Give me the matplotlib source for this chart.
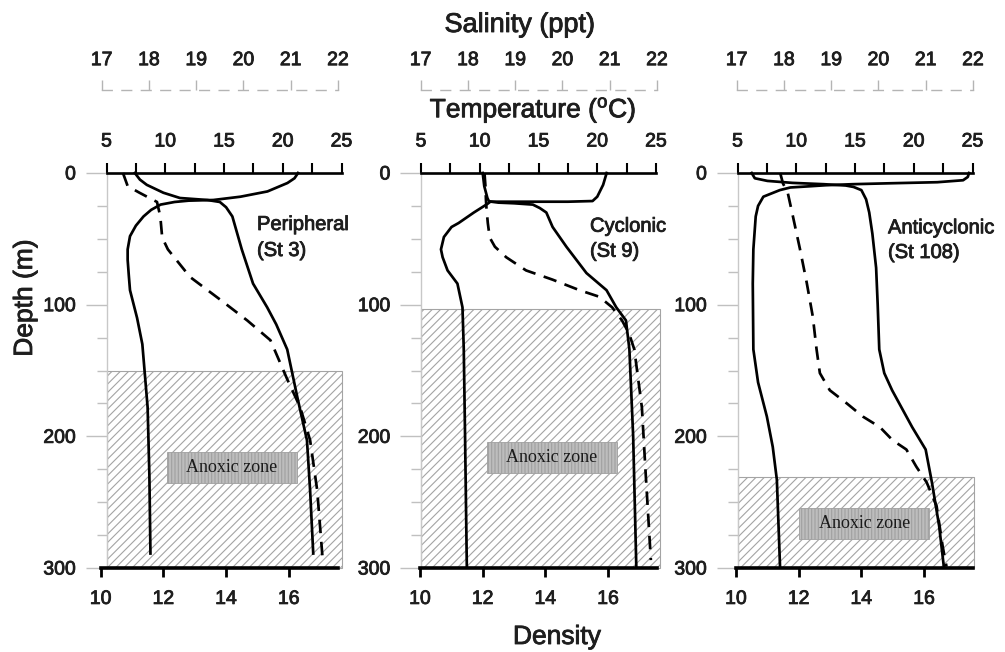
import matplotlib
matplotlib.use("Agg")
import matplotlib.pyplot as plt
import matplotlib.patheffects as pe
from matplotlib.patches import Rectangle
from matplotlib.ticker import MultipleLocator, FixedLocator

plt.rcParams['font.family'] = ['Liberation Sans', 'DejaVu Sans']
plt.rcParams['mathtext.fontset'] = 'custom'
plt.rcParams['mathtext.rm'] = 'Liberation Sans'
plt.rcParams['mathtext.it'] = 'Liberation Sans'
plt.rcParams['hatch.linewidth'] = 0.8

# ---------------- data ----------------
station_names = ["Peripheral\n(St 3)", "Cyclonic\n(St 9)", "Anticyclonic\n(St 108)"]
anoxic_top = [150, 103, 231]   # depth (m) of anoxic zone top

# Peripheral (St 3)
p1_temp_depth = [0, 4, 7.6, 14, 18, 20.5, 21, 22, 24, 28, 33, 40, 48, 58, 66, 78, 89, 110, 130, 178, 230, 289]
p1_temp = [21.3, 21.0, 20.4, 18.7, 16.4, 14.1, 12.0, 10.8, 9.6, 8.8, 8.15, 7.5, 7.0, 6.8, 6.8, 6.9, 7.0, 7.6, 8.05, 8.5, 8.65, 8.74]
p1_dens_depth = [0, 5, 9, 15, 19, 20.5, 22, 26, 33, 58, 84, 102, 115, 134, 170, 203, 241, 289]
p1_dens = [11.09, 11.25, 11.47, 12.0, 12.53, 13.4, 13.8, 14.0, 14.2, 14.5, 14.86, 15.31, 15.6, 15.95, 16.27, 16.58, 16.68, 16.78]
p1_sal_depth = [0, 10, 15, 22, 33, 49, 58, 79, 96, 112, 127, 157, 178, 203, 241, 291]
p1_sal = [17.45, 17.55, 17.8, 18.17, 18.24, 18.28, 18.4, 18.87, 19.5, 20.08, 20.57, 20.93, 21.2, 21.41, 21.56, 21.67]

# Cyclonic (St 9)
p2_temp_depth = [0, 9, 18, 21.3, 21.8, 21.8, 23.5, 30, 38, 41, 48.6, 58, 64, 74, 84, 102, 134, 200, 299]
p2_temp = [20.8, 20.5, 20.0, 19.6, 17.5, 10.9, 10.65, 9.5, 8.2, 7.6, 6.95, 6.7, 6.84, 7.26, 8.1, 8.53, 8.64, 8.75, 8.9]
p2_dens_depth = [0, 10, 19, 21.5, 22.5, 23, 24, 26.6, 30, 41, 56, 76, 89, 102, 112, 134, 200, 299]
p2_dens = [12.0, 12.05, 12.15, 12.2, 12.5, 13.0, 13.6, 13.82, 14.03, 14.23, 14.67, 15.31, 15.95, 16.26, 16.57, 16.68, 16.8, 16.9]
p2_sal_depth = [0, 10, 20, 26, 38, 49, 56, 64, 74, 81, 89, 94, 102, 112, 122, 134, 178, 228, 294]
p2_sal = [18.35, 18.37, 18.38, 18.39, 18.42, 18.46, 18.57, 18.81, 19.23, 19.79, 20.36, 20.78, 21.05, 21.26, 21.41, 21.52, 21.68, 21.76, 21.87]

# Anticyclonic (St 108)
p3_temp_depth = [0, 3, 5.5, 7, 7.8, 8.5, 9.3, 10, 11, 13, 18, 25, 33, 58, 84, 134, 159, 185, 208, 233, 299]
p3_temp = [24.7, 24.6, 24.2, 22.0, 18.0, 14.8, 12.5, 11.3, 9.5, 8.6, 7.2, 6.75, 6.55, 6.35, 6.3, 6.35, 6.75, 7.5, 8.0, 8.35, 8.62]
p3_dens_depth = [0, 4, 6, 7.5, 8.5, 9.5, 10.6, 13, 20, 30, 46, 72, 100, 134, 152, 165, 193, 210, 235, 268, 299]
p3_dens = [10.5, 10.6, 11.0, 11.8, 12.8, 13.5, 13.75, 14.0, 14.15, 14.25, 14.35, 14.47, 14.52, 14.57, 14.73, 14.98, 15.62, 16.05, 16.25, 16.48, 16.63]
p3_sal_depth = [0, 8, 15, 33, 58, 83, 109, 134, 152, 165, 175, 185, 193, 203, 210, 223, 235, 253, 284, 299]
p3_sal = [17.92, 17.98, 18.08, 18.19, 18.34, 18.48, 18.61, 18.69, 18.76, 18.97, 19.33, 19.67, 20.03, 20.3, 20.59, 20.8, 21.02, 21.23, 21.36, 21.44]

temps = [(p1_temp, p1_temp_depth), (p2_temp, p2_temp_depth), (p3_temp, p3_temp_depth)]
dens = [(p1_dens, p1_dens_depth), (p2_dens, p2_dens_depth), (p3_dens, p3_dens_depth)]
sals = [(p1_sal, p1_sal_depth), (p2_sal, p2_sal_depth), (p3_sal, p3_sal_depth)]

temp_ticks = [5, 10, 15, 20, 25]
dens_ticks = [10, 12, 14, 16]
sal_ticks = [17, 18, 19, 20, 21, 22]
depth_ticks = [0, 100, 200, 300]

# ---------------- layout (pixels) ----------------
W, H = 1005, 652
fig = plt.figure(figsize=(W / 100, H / 100), dpi=100)

Y_TOP, Y_BOT = 173, 568
T_X = [106.5, 421, 737.5]; T_W = 235
D_X = [100.7, 420, 736]; D_W = 237.3
S_X = [101.7, 420.7, 736.7]; S_W = 236.3
SAL_AXIS_Y = 90
HATCH_RIGHT = [1.0, 1.017, 1.006]
label_box_center = [(15.68, 224), (16.15, 216), (15.8, 266.5)]
station_xy = [(257, 230, 256), (590, 231.7, 256.7), (888, 233.3, 258)]

TXT = '#1e1e1e'
bold_fx = [pe.withStroke(linewidth=0.6, foreground=TXT)]

def rect(x0, w):
    return [x0 / W, 1 - Y_BOT / H, w / W, (Y_BOT - Y_TOP) / H]

def thicken(ax):
    for lab in ax.get_xticklabels() + ax.get_yticklabels():
        lab.set_path_effects(bold_fx)

LW = 1.95
dash = (0, (5, 3.2))

for i in range(3):
    # temperature / depth axes
    ax_t = fig.add_axes(rect(T_X[i], T_W))
    ax_t.set_xlim(5, 25)
    ax_t.set_ylim(300, 0)
    ax_t.patch.set_alpha(0)
    for s in ['right', 'bottom']:
        ax_t.spines[s].set_visible(False)
    ax_t.spines['top'].set_linewidth(1.9)
    ax_t.spines['left'].set_color('#c8c8c8')
    ax_t.spines['left'].set_linewidth(1.0)
    ax_t.xaxis.tick_top()
    ax_t.xaxis.set_major_locator(FixedLocator(temp_ticks))
    ax_t.xaxis.set_minor_locator(MultipleLocator(2.5))
    ax_t.tick_params(axis='x', which='both', direction='out', length=7.2, width=1.5,
                     labelsize=14, pad=9, colors='black', labelcolor=TXT)
    ax_t.yaxis.set_major_locator(FixedLocator(depth_ticks))
    ax_t.yaxis.set_minor_locator(MultipleLocator(25))
    ax_t.tick_params(axis='y', which='major', length=15, width=1, color='#c0c0c0',
                     labelsize=14, pad=7, labelcolor=TXT)
    ax_t.tick_params(axis='y', which='minor', length=7.5, width=1, color='#c0c0c0')
    thicken(ax_t)

    # anoxic zone hatching
    hr = Rectangle((0, anoxic_top[i]), HATCH_RIGHT[i], 300 - anoxic_top[i],
                   transform=ax_t.get_yaxis_transform(), facecolor='white',
                   edgecolor='#a4a4a4', hatch='////', linewidth=0.8, zorder=1,
                   clip_on=False)
    ax_t.add_patch(hr)
    cx, cy = label_box_center[i]
    bw, bh = 11.06, 23.5
    lb = Rectangle((cx - bw / 2, cy - bh / 2), bw, bh, facecolor='#bdbdbd',
                   edgecolor='#a0a0a0', hatch='|||||', linewidth=0.6, zorder=3)
    ax_t.add_patch(lb)
    ax_t.text(cx, cy, 'Anoxic zone', ha='center', va='center', fontsize=13,
              family=['Liberation Serif', 'DejaVu Serif'], color='#1a1a1a', zorder=4)

    ax_t.plot(temps[i][0], temps[i][1], color='black', lw=LW, zorder=5,
              solid_joinstyle='round', clip_on=False)

    # salinity axes
    ax_s = fig.add_axes(rect(S_X[i], S_W))
    ax_s.set_xlim(17, 22)
    ax_s.set_ylim(300, 0)
    ax_s.patch.set_alpha(0)
    for s in ['right', 'bottom', 'left']:
        ax_s.spines[s].set_visible(False)
    ax_s.spines['top'].set_position(('axes', 1 + (Y_TOP - SAL_AXIS_Y) / (Y_BOT - Y_TOP)))
    ax_s.spines['top'].set_linestyle((0, (7, 7)))
    ax_s.spines['top'].set_color('#b4b4b4')
    ax_s.spines['top'].set_linewidth(1.0)
    ax_s.xaxis.tick_top()
    ax_s.xaxis.set_major_locator(FixedLocator(sal_ticks))
    ax_s.tick_params(axis='x', direction='out', length=7, width=1, color='#b4b4b4',
                     labelsize=14, pad=8, labelcolor=TXT)
    ax_s.set_yticks([])
    thicken(ax_s)
    ax_s.plot(sals[i][0], sals[i][1], color='black', lw=LW, linestyle=dash, zorder=5,
              clip_on=False)

    # density axes
    ax_d = fig.add_axes(rect(D_X[i], D_W))
    ax_d.set_xlim(10, 17.57)
    ax_d.set_ylim(300, 0)
    ax_d.patch.set_alpha(0)
    for s in ['right', 'top', 'left']:
        ax_d.spines[s].set_visible(False)
    ax_d.spines['bottom'].set_linewidth(2.6)
    ax_d.xaxis.set_major_locator(FixedLocator(dens_ticks))
    ax_d.tick_params(axis='x', direction='out', length=6.5, width=2, labelsize=14,
                     pad=10, labelcolor=TXT)
    ax_d.set_yticks([])
    thicken(ax_d)
    ax_d.plot(dens[i][0], dens[i][1], color='black', lw=LW, zorder=5, clip_on=False)

    # station label
    sx, b1, b2 = station_xy[i]
    l1, l2 = station_names[i].split('\n')
    fig.text(sx / W, 1 - b1 / H, l1, ha='left', va='baseline', fontsize=14.5, color=TXT,
             path_effects=bold_fx)
    fig.text(sx / W, 1 - b2 / H, l2, ha='left', va='baseline', fontsize=14.5, color=TXT,
             path_effects=bold_fx)

fig.text(520 / W, 1 - 25 / H, 'Salinity (ppt)', ha='center', va='center', fontsize=19.5,
         color=TXT, path_effects=bold_fx)
fig.text(533 / W, 1 - 110 / H, 'Temperature ($^{\\mathrm{o}}$C)', ha='center', va='center',
         fontsize=19, color=TXT, path_effects=bold_fx)
fig.text(25 / W, 1 - 298 / H, 'Depth (m)', ha='center', va='center', rotation=90,
         fontsize=19, color=TXT, path_effects=bold_fx)
fig.text(557 / W, 1 - 637 / H, 'Density', ha='center', va='center', fontsize=19,
         color=TXT, path_effects=bold_fx)

fig.savefig('out.png', dpi=100, facecolor='white')
